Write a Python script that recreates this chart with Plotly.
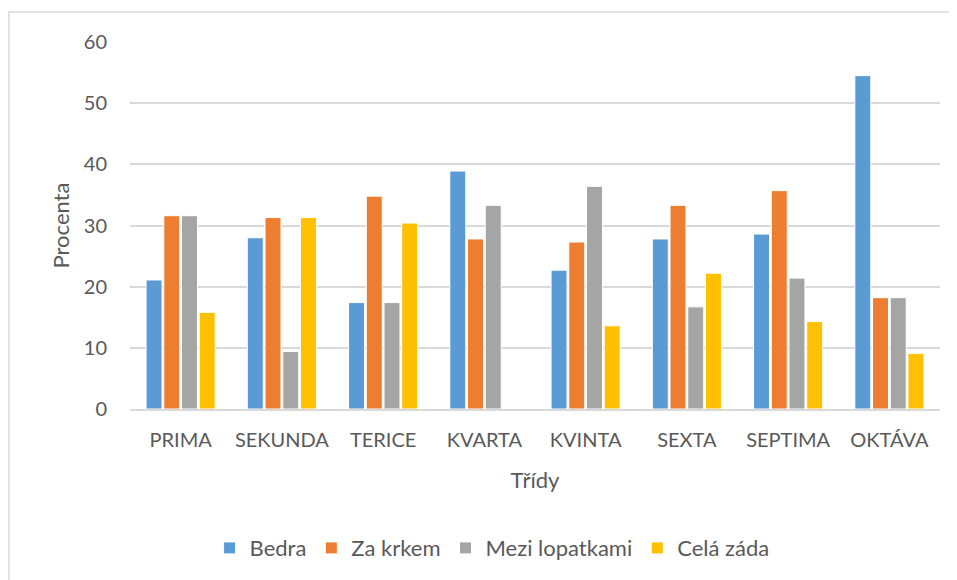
import plotly.graph_objects as go

categories = ["PRIMA", "SEKUNDA", "TERICE", "KVARTA", "KVINTA", "SEXTA", "SEPTIMA", "OKTÁVA"]
bedra = [21.1, 28.0, 17.4, 38.9, 22.7, 27.8, 28.6, 54.5]
za_krkem = [31.6, 31.3, 34.8, 27.8, 27.3, 33.3, 35.7, 18.2]
mezi_lopatkami = [31.6, 9.4, 17.4, 33.3, 36.4, 16.7, 21.4, 18.2]
cela_zada = [15.8, 31.3, 30.4, 0, 13.6, 22.2, 14.3, 9.1]

series = [
    ("Bedra", bedra, "#5B9BD5"),
    ("Za krkem", za_krkem, "#ED7D31"),
    ("Mezi lopatkami", mezi_lopatkami, "#A5A5A5"),
    ("Celá záda", cela_zada, "#FFC000"),
]

fig = go.Figure()
for name, vals, col in series:
    fig.add_trace(go.Bar(
        x=categories, y=vals, name=name,
        marker=dict(color=col, line=dict(color="white", width=1)),
    ))

FONT = "Lato, 'Open Sans', sans-serif"
fig.update_layout(
    width=949, height=572,
    margin=dict(l=122, r=17, t=34, b=171, autoexpand=False),
    paper_bgcolor="white", plot_bgcolor="white",
    barmode="group", bargap=0.3, bargroupgap=0.1,
    font=dict(family=FONT, color="#595959", size=20),
    xaxis=dict(
        showgrid=False, showline=True, linecolor="#D9D9D9", linewidth=1.5,
        tickfont=dict(size=20, color="#595959"), ticks="",
        ticklabelstandoff=12,
        title=dict(text="Třídy", font=dict(size=22, color="#595959"), standoff=23),
    ),
    yaxis=dict(
        range=[0, 60], dtick=10, showgrid=True, gridcolor="#D9D9D9", gridwidth=1.5,
        zeroline=False, tickfont=dict(size=20, color="#595959"), ticks="",
        ticklabelstandoff=22,
        title=dict(text="Procenta", font=dict(size=22, color="#595959"), standoff=8),
    ),
    legend=dict(
        orientation="h", x=0.447, xanchor="center", y=-0.379, yanchor="middle",
        font=dict(size=22, color="#595959"), itemwidth=30, traceorder="normal",
    ),
    shapes=[dict(
        type="rect", xref="paper", yref="paper",
        x0=-0.1494, x1=1.03, y0=-0.5, y1=1.0817,
        line=dict(color="#D9D9D9", width=1.5), fillcolor="rgba(0,0,0,0)", layer="below",
    )],
)

fig.write_html("out.html")
